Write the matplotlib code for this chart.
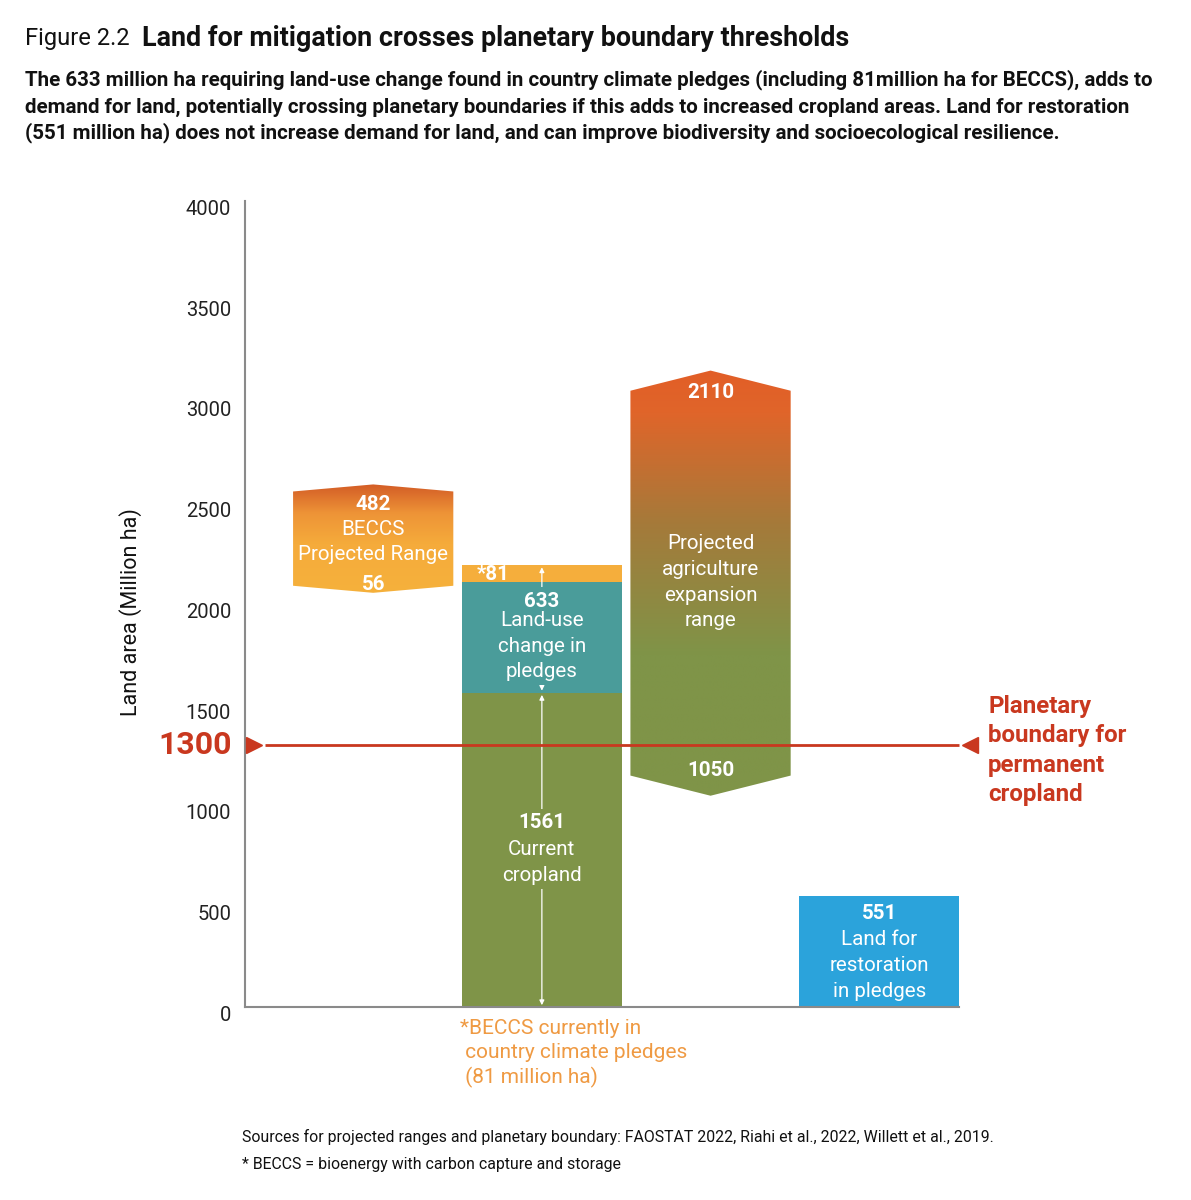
import numpy as np
import matplotlib
matplotlib.use('Agg')
import matplotlib.pyplot as plt
from matplotlib.patches import Polygon
from matplotlib.colors import to_rgb
import matplotlib.transforms as mtransforms

plt.rcParams['font.family'] = ['Roboto', 'DejaVu Sans']

# ---------------- data ----------------
categories = ['BECCS projected range', 'Land-use change in pledges',
              'Projected agriculture expansion range', 'Land for restoration in pledges']
current_cropland = 1561
luc_pledges = 633          # includes BECCS in pledges
beccs_pledges = 81
beccs_range_high = 482     # above current pledge total (excl. BECCS)
beccs_range_low = 56       # below
agri_low = 1050
agri_range = 2110
restoration = 551
planetary_boundary = 1300
yticks = [0, 500, 1000, 1500, 2000, 2500, 3000, 3500, 4000]

# ---------------- style ----------------
GREEN = '#7f9448'
TEAL = '#4a9c9a'
ORANGE = '#f5ae3c'
BLUE = '#2ba3db'
RED = '#c9381f'
NOTE = '#ef9a43'

W, H = 1191, 1200
Y0, PPU = 1007.3, 0.202   # pixel row of y=0, pixels per unit
YMAX = 3990
fig = plt.figure(figsize=(W / 100, H / 100), dpi=100)
ax = fig.add_axes([245 / W, 1 - Y0 / H, (958.5 - 245) / W, YMAX * PPU / H])

xs = np.arange(len(categories))
bw = 0.95

def ty(px):
    """layout helper: figure pixel row -> data y"""
    return (Y0 - px) / PPU

# main stacked bar
luc_only = luc_pledges - beccs_pledges
ax.bar(xs[1], current_cropland, bw, color=GREEN, zorder=2)
ax.bar(xs[1], luc_only, bw, bottom=current_cropland, color=TEAL, zorder=2)
ax.bar(xs[1], beccs_pledges, bw, bottom=current_cropland + luc_only, color=ORANGE, zorder=2)
# restoration
ax.bar(xs[3], restoration, bw, color=BLUE, zorder=2)


def chevron(xc, lo, hi, tip, w):
    x0, x1 = xc - w / 2, xc + w / 2
    return [(x0, lo + tip), (xc, lo), (x1, lo + tip), (x1, hi - tip), (xc, hi), (x0, hi - tip)]


def gradient_shape(xc, lo, hi, tip, stops):
    pts = chevron(xc, lo, hi, tip, bw)
    ys = np.linspace(lo, hi, 400)
    pos = [s[0] for s in stops]
    cols = [to_rgb(s[1]) for s in stops]
    arr = np.zeros((400, 1, 3))
    for c in range(3):
        arr[:, 0, c] = np.interp(ys, pos, [col[c] for col in cols])
    patch = Polygon(pts, closed=True, fc='none', ec='none')
    ax.add_patch(patch)
    im = ax.imshow(arr, extent=[xc - bw / 2, xc + bw / 2, lo, hi], origin='lower',
                   aspect='auto', zorder=2, interpolation='bilinear')
    im.set_clip_path(patch)


base = current_cropland + luc_only
b_lo, b_hi = base - beccs_range_low, base + beccs_range_high
gradient_shape(xs[0], b_lo, b_hi, 35,
               [(b_lo, '#f6b13c'), (2300, '#f5ab3b'), (2450, '#ee9437'), (b_hi, '#d35c26')])
a_lo, a_hi = agri_low, agri_low + agri_range
gradient_shape(xs[2], a_lo, a_hi, 100,
               [(a_lo, GREEN), (1750, GREEN), (2400, '#a57a3a'), (2950, '#e0652a'), (a_hi, '#e25e27')])

# white arrows in main bar
ap = dict(arrowstyle='<|-|>', color='white', lw=0.9, mutation_scale=7, shrinkA=1.5, shrinkB=1.5)
ax.annotate('', xy=(xs[1], 0), xytext=(xs[1], current_cropland), arrowprops=ap, zorder=3)
ax.annotate('', xy=(xs[1], current_cropland), xytext=(xs[1], current_cropland + luc_pledges),
            arrowprops=ap, zorder=3)

# boundary line
trans = mtransforms.blended_transform_factory(ax.transAxes, ax.transData)
ax.plot([0.028, 1.0], [planetary_boundary] * 2, color=RED, lw=2, transform=trans, zorder=5,
        clip_on=False, solid_capstyle='butt')
ax.plot([0.012], [planetary_boundary], marker='>', ms=12, color=RED, transform=trans,
        clip_on=False, zorder=5)
ax.plot([1.0165], [planetary_boundary], marker='<', ms=12, color=RED, transform=trans,
        clip_on=False, zorder=5)
ax.text(-0.018, planetary_boundary, str(planetary_boundary), transform=trans, ha='right',
        va='center', fontsize=23, weight='bold', color=RED)
fig.text(988 / W, 1 - 695 / H, 'Planetary\nboundary for\npermanent\ncropland', ha='left',
         va='top', fontsize=17.4, weight='bold', color=RED, linespacing=1.35)

# bar labels
FS = 14.8


def lab(x, px, s, bold=False, box=None):
    kw = dict(ha='center', va='center', fontsize=FS, color='white', zorder=6,
              weight='bold' if bold else 'normal')
    if box:
        kw['bbox'] = dict(fc=box, ec='none', pad=3)
    ax.text(x, ty(px), s, **kw)


lab(xs[0], 503, str(beccs_range_high), True)
lab(xs[0], 528, 'BECCS')
lab(xs[0], 553, 'Projected Range')
lab(xs[0], 583, str(beccs_range_low), True)

lab(xs[1], 600, str(luc_pledges), True, TEAL)
lab(xs[1], 620, 'Land-use', False, TEAL)
lab(xs[1], 646, 'change in', False, TEAL)
lab(xs[1], 671, 'pledges', False, TEAL)
lab(xs[1], 822, str(current_cropland), True, GREEN)
lab(xs[1], 849, 'Current', False, GREEN)
lab(xs[1], 875, 'cropland', False, GREEN)
ax.text(xs[1] - 0.29, ty(573), '*' + str(beccs_pledges), ha='center', va='center', fontsize=FS,
        color='white', weight='bold', zorder=8)

lab(xs[2], 391, str(agri_range), True)
lab(xs[2], 542, 'Projected')
lab(xs[2], 568, 'agriculture')
lab(xs[2], 594, 'expansion')
lab(xs[2], 620, 'range')
lab(xs[2], 770, str(agri_low), True)

lab(xs[3], 913, str(restoration), True)
lab(xs[3], 939, 'Land for')
lab(xs[3], 965, 'restoration')
lab(xs[3], 991, 'in pledges')

# axes styling
ax.set_xlim(-0.76, 3.47)
ax.set_ylim(0, YMAX)
ax.set_yticks(yticks)
ax.set_yticklabels([str(t) for t in yticks])
ax.set_xticks([])
ax.tick_params(axis='y', length=0, pad=10, labelsize=14.5, labelcolor='#222222')
shift = mtransforms.ScaledTranslation(0, -6 / 100, fig.dpi_scale_trans)
for tl in ax.get_yticklabels():
    tl.set_transform(tl.get_transform() + shift)
for s in ['top', 'right']:
    ax.spines[s].set_visible(False)
for s in ['left', 'bottom']:
    ax.spines[s].set_color('#8a8a8a')
    ax.spines[s].set_linewidth(1.5)
fig.text(131 / W, 1 - 612 / H, 'Land area (Million ha)', rotation=90, ha='center', va='center',
         fontsize=15.5, color='#111111')

# note under bar
for px, s in [(1028, '*BECCS currently in'), (1053, ' country climate pledges'),
              (1077, ' (81 million ha)')]:
    fig.text(460 / W, 1 - px / H, s, ha='left', va='center', fontsize=15, color=NOTE)

# titles
fig.text(25 / W, 1 - 38 / H, 'Figure 2.2', ha='left', va='center', fontsize=17, color='#111111')
fig.text(142 / W, 1 - 38 / H, 'Land for mitigation crosses planetary boundary thresholds',
         ha='left', va='center', fontsize=19.4, weight='bold', color='#111111')
sub = ['The 633 million ha requiring land-use change found in country climate pledges (including 81million ha for BECCS), adds to',
       'demand for land, potentially crossing planetary boundaries if this adds to increased cropland areas. Land for restoration',
       '(551 million ha) does not increase demand for land, and can improve biodiversity and socioecological resilience.']
for px, s in zip([80, 107, 133], sub):
    fig.text(25 / W, 1 - px / H, s, ha='left', va='center', fontsize=14.8, weight='bold',
             color='#111111')

fig.text(242 / W, 1 - 1137 / H,
         'Sources for projected ranges and planetary boundary: FAOSTAT 2022, Riahi et al., 2022, Willett et al., 2019.',
         ha='left', va='center', fontsize=11.4, color='#111111')
fig.text(242 / W, 1 - 1164 / H, '* BECCS = bioenergy with carbon capture and storage',
         ha='left', va='center', fontsize=11.4, color='#111111')

fig.savefig('out.png', dpi=100)
